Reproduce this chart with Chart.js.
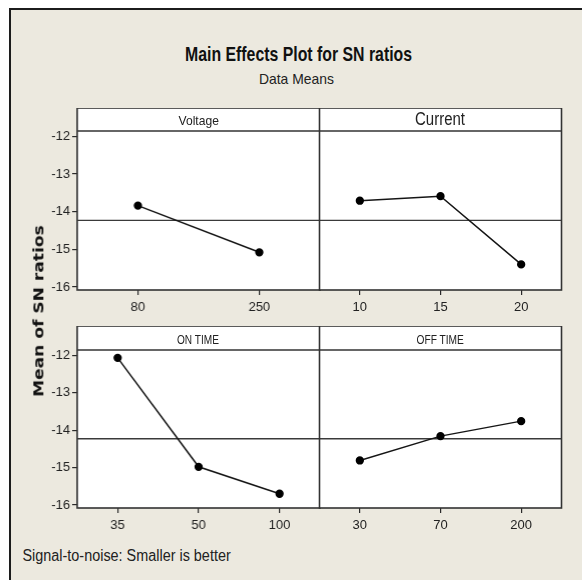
<!DOCTYPE html>
<html><head><meta charset="utf-8">
<script src="https://cdn.jsdelivr.net/npm/chart.js@4/dist/chart.umd.min.js"></script>
<style>
html,body{margin:0;padding:0;background:#fff;width:582px;height:580px;overflow:hidden;position:relative;}
#frame{position:absolute;left:9px;top:8px;width:600px;height:600px;background:#ECE9DF;border-left:2px solid #1c1c1c;border-top:2px solid #1c1c1c;}
.cbox{position:absolute;}
</style>
</head><body>
<div id="frame"></div>
<div class="cbox" id="bTL" style="left:20px;top:108px;width:299px;height:212px"><canvas id="cTL"></canvas></div>
<div class="cbox" id="bTR" style="left:319px;top:108px;width:252px;height:212px"><canvas id="cTR"></canvas></div>
<div class="cbox" id="bBL" style="left:20px;top:326px;width:299px;height:212px"><canvas id="cBL"></canvas></div>
<div class="cbox" id="bBR" style="left:319px;top:326px;width:252px;height:212px"><canvas id="cBR"></canvas></div>
<script>
// ---- data ----
const panelNames = ['Voltage', 'Current', 'ON TIME', 'OFF TIME'];
const voltageLevels = ['80', '250'];
const voltageSN = [-13.84, -15.08];
const currentLevels = ['10', '15', '20'];
const currentSN = [-13.71, -13.59, -15.40];
const onTimeLevels = ['35', '50', '100'];
const onTimeSN = [-12.07, -14.98, -15.70];
const offTimeLevels = ['30', '70', '200'];
const offTimeSN = [-14.81, -14.16, -13.76];
const grandMean = -14.23;
const yTickValues = [-12, -13, -14, -15, -16];
const yMin = -16.08, yMax = -11.86;

const TICK = '#2a2a2a';
const TICKFONT = {family: '"Liberation Sans", Arial, sans-serif', size: 13};
const panelPlugin = {
  id: 'panel',
  beforeDraw(chart, args, o) {
    const {ctx, chartArea: a} = chart;
    ctx.save();
    ctx.fillStyle = '#ffffff';
    ctx.fillRect(a.left, a.top - o.header, a.right - a.left, a.bottom - a.top + o.header);
    ctx.restore();
  },
  afterDraw(chart, args, o) {
    const {ctx, chartArea: a} = chart;
    ctx.save();
    ctx.strokeStyle = '#333';
    ctx.lineWidth = 1.6;
    ctx.strokeRect(a.left, a.top - o.header, a.right - a.left, a.bottom - a.top + o.header);
    ctx.beginPath();
    ctx.moveTo(a.left, a.top); ctx.lineTo(a.right, a.top);
    ctx.stroke();
    ctx.restore();
  }
};

function makePanel(id, labels, values, showY, header) {
  return new Chart(document.getElementById(id), {
    type: 'line',
    data: {
      labels: labels,
      datasets: [
        {
          data: values,
          borderColor: '#151515', borderWidth: 1.5,
          pointRadius: 3.4, pointBackgroundColor: '#000', pointBorderColor: '#000',
          tension: 0, order: 0
        },
        {
          data: [{x: 0, y: grandMean}, {x: 1, y: grandMean}],
          xAxisID: 'x2',
          borderColor: '#3a3a3a', borderWidth: 1.3,
          pointRadius: 0, tension: 0, order: 1
        }
      ]
    },
    options: {
      responsive: true, maintainAspectRatio: false, animation: false,
      devicePixelRatio: 1,
      layout: {padding: {top: header, left: 0, right: showY ? 0 : 10, bottom: 0}},
      plugins: {legend: {display: false}, tooltip: {enabled: false}, panel: {header: header}},
      scales: {
        x: {
          type: 'category', offset: true,
          grid: {drawOnChartArea: false, drawTicks: true, tickLength: 5, color: TICK, lineWidth: 1.2},
          border: {display: false},
          ticks: {color: '#222', font: TICKFONT, padding: 5, maxRotation: 0},
          afterFit(s) { s.height = 30; }
        },
        x2: {type: 'linear', min: 0, max: 1, display: false},
        y: {
          type: 'linear', min: yMin, max: yMax, display: showY,
          afterBuildTicks(s) { s.ticks = yTickValues.map(v => ({value: v})); },
          grid: {drawOnChartArea: false, drawTicks: true, tickLength: 5, color: TICK, lineWidth: 1.2},
          border: {display: false},
          ticks: {color: '#222', font: TICKFONT, padding: 2},
          afterFit(s) { s.width = showY ? 57 : 0; }
        }
      }
    },
    plugins: [panelPlugin]
  });
}

// place each panel's plotting area on the target page edges
function fitArea(chart, boxId, L, R) {
  const box = document.getElementById(boxId);
  for (let i = 0; i < 4; i++) {
    const a = chart.chartArea;
    const bl = parseFloat(box.style.left), bw = parseFloat(box.style.width);
    const dL = L - (bl + a.left);
    const dR = R - (bl + a.right);
    if (Math.abs(dL) < 0.5 && Math.abs(dR) < 0.5) break;
    box.style.left = (bl + dL) + 'px';
    box.style.width = (bw + dR - dL) + 'px';
    chart.resize();
  }
}

const chTL = makePanel('cTL', voltageLevels, voltageSN, true, 23);
const chTR = makePanel('cTR', currentLevels, currentSN, false, 23);
const chBL = makePanel('cBL', onTimeLevels, onTimeSN, true, 24);
const chBR = makePanel('cBR', offTimeLevels, offTimeSN, false, 24);
fitArea(chTL, 'bTL', 77, 319);
fitArea(chTR, 'bTR', 319, 561);
fitArea(chBL, 'bBL', 77, 319);
fitArea(chBR, 'bBR', 319, 561);

function addText(str, o) {
  const el = document.createElement('div');
  el.textContent = str;
  el.style.cssText = 'position:absolute;white-space:nowrap;line-height:1;left:0;top:0;font:' + o.font + ';color:' + (o.color || '#222') + ';';
  document.body.appendChild(el);
  const w = el.offsetWidth, h = el.offsetHeight;
  const sx = o.w ? o.w / w : 1;
  const cx = o.left !== undefined ? o.left + (o.w || w) / 2 : o.cx;
  el.style.left = (cx - w / 2) + 'px';
  el.style.top = (o.cy - h / 2) + 'px';
  el.style.transformOrigin = '50% 50%';
  el.style.transform = (o.rot ? 'rotate(' + o.rot + 'deg) ' : '') + 'scaleX(' + sx + ')';
}

addText('Main Effects Plot for SN ratios', {font: 'bold 21px "Liberation Sans"', cx: 298, cy: 54, w: 227, color: '#111'});
addText('Data Means', {font: '15px "Liberation Sans"', cx: 296, cy: 78, w: 75, color: '#222'});
addText('Mean of SN ratios', {font: 'bold 14px "DejaVu Sans"', cx: 38, cy: 311, w: 172, rot: -90, color: '#111'});
addText('Signal-to-noise: Smaller is better', {font: '16px "Liberation Sans"', left: 22, cy: 556, w: 208, color: '#222'});
addText(panelNames[0], {font: '13px "Liberation Sans"', cx: 198, cy: 120, w: 40});
addText(panelNames[1], {font: '18px "Liberation Sans"', cx: 440, cy: 119, w: 50});
addText(panelNames[2], {font: '13px "Liberation Sans"', cx: 198, cy: 339, w: 42});
addText(panelNames[3], {font: '13px "Liberation Sans"', cx: 440, cy: 339, w: 47});
</script>
</body></html>
